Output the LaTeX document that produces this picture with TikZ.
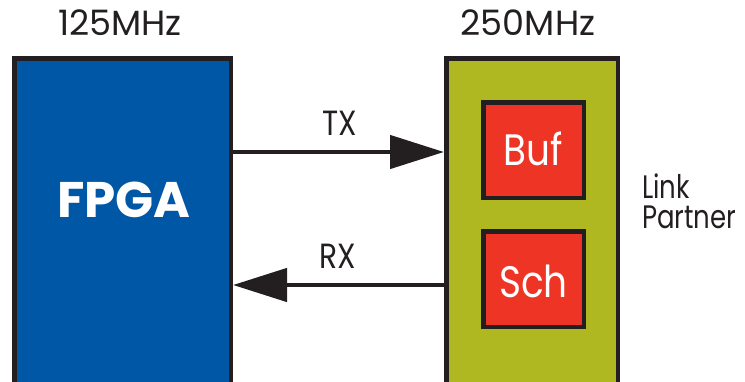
\documentclass[tikz,border=0pt]{standalone}
\usepackage{fontspec}
\setmainfont{Poppins}
\newfontfamily\labfont[FakeStretch=0.85]{Poppins}
\newfontfamily\narrowfont[FakeStretch=0.8]{Poppins}
\newfontfamily\wlabfont{Poppins}
\newfontfamily\boldlab{Poppins}
\usetikzlibrary{arrows.meta}
\definecolor{fpgablue}{HTML}{0057A6}
\definecolor{lpgreen}{HTML}{B0B821}
\definecolor{boxred}{HTML}{EE3424}
\definecolor{edgeblack}{HTML}{231F20}
\definecolor{txtgray}{HTML}{231F20}
\begin{document}
\begin{tikzpicture}[x=1pt,y=-1pt,
  bigbox/.style={draw=edgeblack, line width=4.5pt, rectangle, inner sep=0pt, anchor=north west},
  redbox/.style={draw=edgeblack, line width=4.5pt, rectangle, inner sep=0pt, fill=boxred, anchor=north west,
     minimum width=100.5pt, minimum height=95.5pt},
  lbl/.style={inner sep=0pt, text=txtgray, anchor=base},
  inlbl/.style={inner sep=0pt, text=white, anchor=base},
  link/.style={draw=edgeblack, line width=4.5pt, -{Triangle[length=54pt,width=33pt]}}
]
\useasboundingbox (0,0) rectangle (745,381);
\clip (0,0) rectangle (745,381);
\node[bigbox, fill=fpgablue, minimum width=216.5pt, minimum height=400pt] (fpga) at (12,56) {};
\node[bigbox, fill=lpgreen, minimum width=171.5pt, minimum height=400pt] (lp) at (444,56) {};
\node[redbox] (buf) at (481,100) {};
\node[redbox] (sch) at (481,229) {};
\node[inlbl, font=\labfont\fontsize{44}{44}\selectfont] (buft) at (533.5,165) {Buf};
\node[inlbl, font=\labfont\fontsize{44}{44}\selectfont] (scht) at (533.5,297) {Sch};
\node[inlbl, font=\boldlab\bfseries\fontsize{50}{50}\selectfont] (fpgat) at (124,217) {FPGA};
\node[lbl, font=\wlabfont\fontsize{35}{35}\selectfont] (f1) at (120,35) {125MHz};
\node[lbl, font=\wlabfont\fontsize{35}{35}\selectfont] (f2) at (528,35) {250MHz};
\node[lbl, font=\labfont\fontsize{35}{35}\selectfont] (tx) at (340,135) {TX};
\node[lbl, font=\labfont\fontsize{35}{35}\selectfont] (rx) at (338,268) {RX};
\node[lbl, anchor=base west, font=\narrowfont\fontsize{32.5}{32.5}\selectfont] (l1) at (642,198) {Link};
\node[lbl, anchor=base west, font=\narrowfont\fontsize{32.5}{32.5}\selectfont] (l2) at (642,228) {Partner};
\draw[link] (fpga.east |- 0,152) -- (lp.west |- 0,152);
\draw[link] (lp.west |- 0,285) -- (fpga.east |- 0,285);
\end{tikzpicture}
\end{document}
